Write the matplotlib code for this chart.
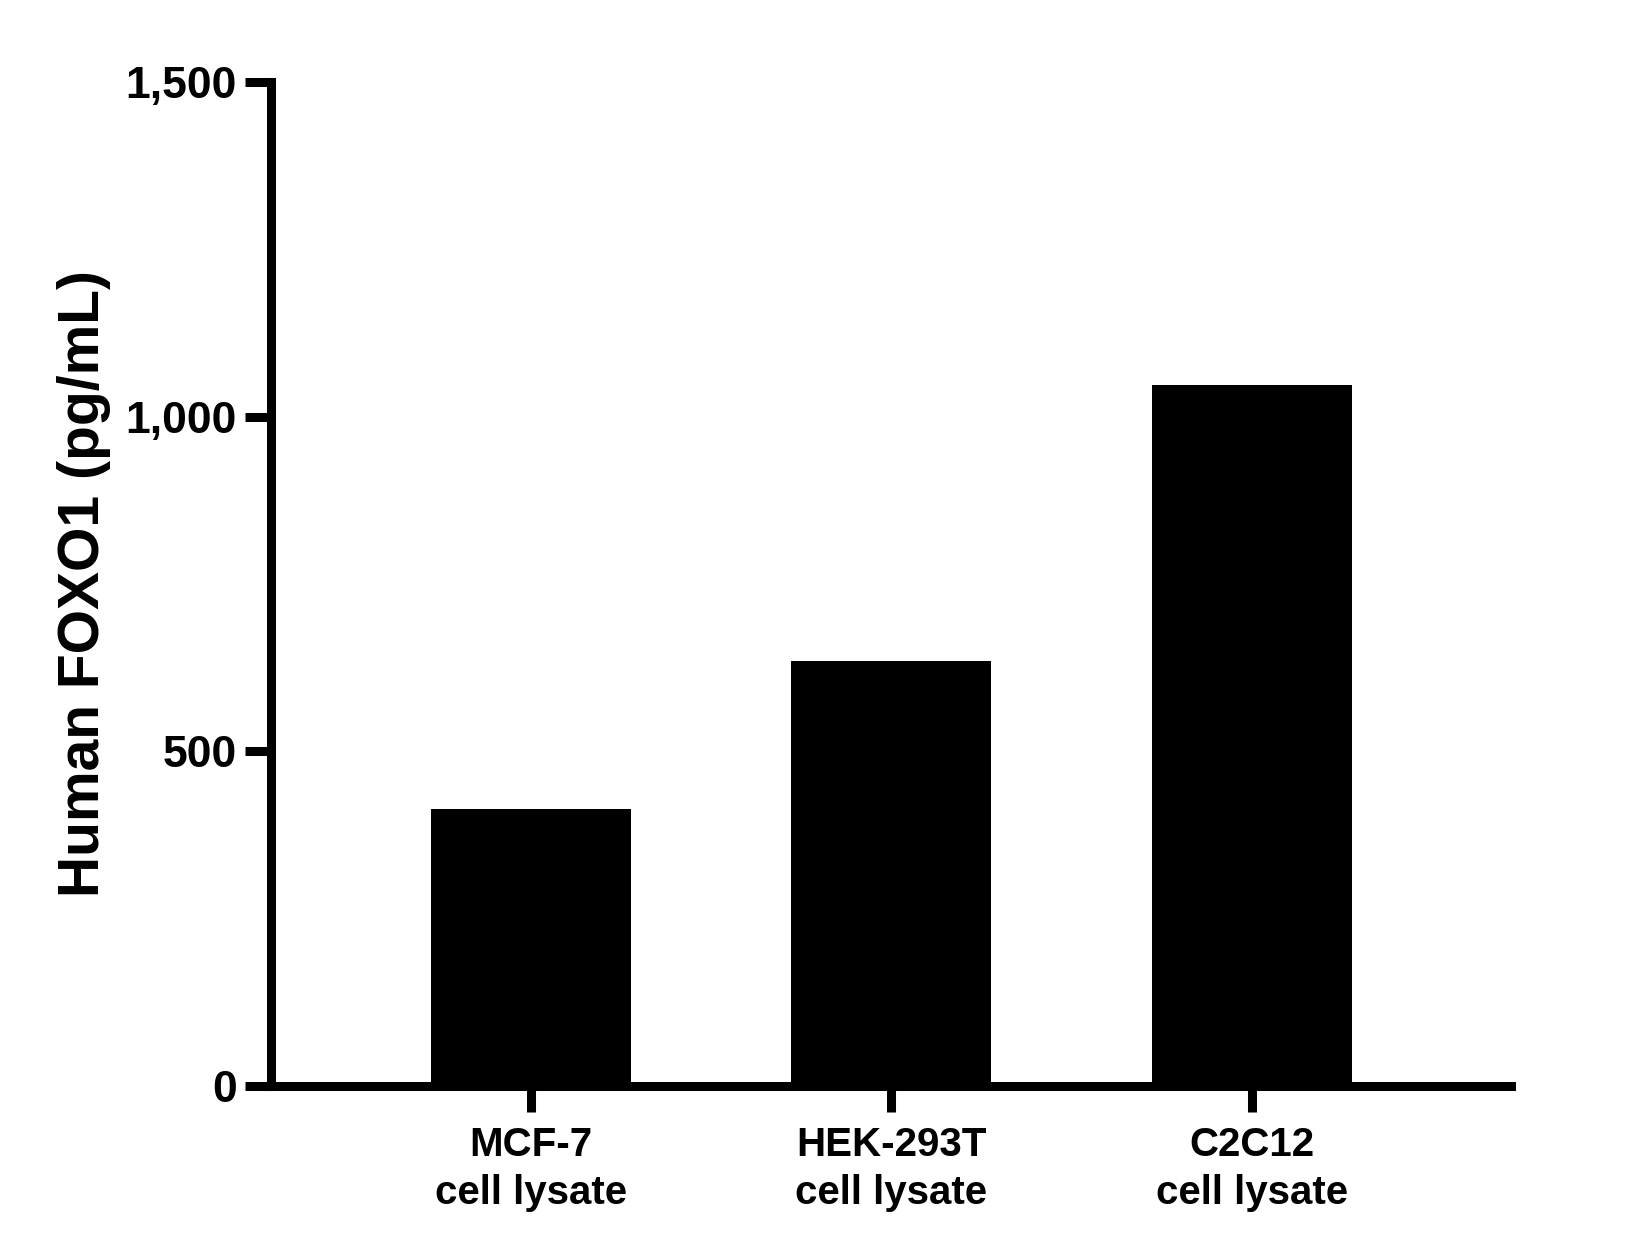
import matplotlib
matplotlib.use("Agg")
import matplotlib.pyplot as plt
from matplotlib.ticker import FuncFormatter

categories = ["MCF-7\ncell lysate", "HEK-293T\ncell lysate", "C2C12\ncell lysate"]
values = [414, 635, 1048]
y_ticks = [0, 500, 1000, 1500]

plt.rcParams['font.family'] = ['Liberation Sans', 'DejaVu Sans']
plt.rcParams['font.weight'] = 'bold'

fig = plt.figure(figsize=(16.5, 12.54), dpi=100)
ax = fig.add_axes([0.1645, 0.134, 0.916 - 0.1645, 0.9346 - 0.134])

x = list(range(len(categories)))
ax.bar(x, values, width=0.555, color="black", zorder=3)

ax.set_xlim(-0.72, 2.72)
ax.set_ylim(0, 1500)
ax.set_yticks(y_ticks)
ax.yaxis.set_major_formatter(FuncFormatter(lambda v, p: "{:,.0f}".format(v)))
ax.set_xticks(x)
ax.set_xticklabels(categories, linespacing=1.32)

for s in ["top", "right"]:
	ax.spines[s].set_visible(False)
for s in ["left", "bottom"]:
	ax.spines[s].set_linewidth(6.5)
	ax.spines[s].set_capstyle("projecting")

ax.tick_params(axis="both", length=19, width=6.5)
ax.tick_params(axis="x", labelsize=29, pad=10)
ax.tick_params(axis="y", labelsize=32, pad=6)
for lab in ax.get_xticklabels() + ax.get_yticklabels():
	lab.set_fontweight("bold")

ax.set_ylabel("Human FOXO1 (pg/mL)", fontsize=41, fontweight="bold")
ax.yaxis.set_label_coords(-0.129, 0.5)

fig.savefig("out.png", dpi=100)
